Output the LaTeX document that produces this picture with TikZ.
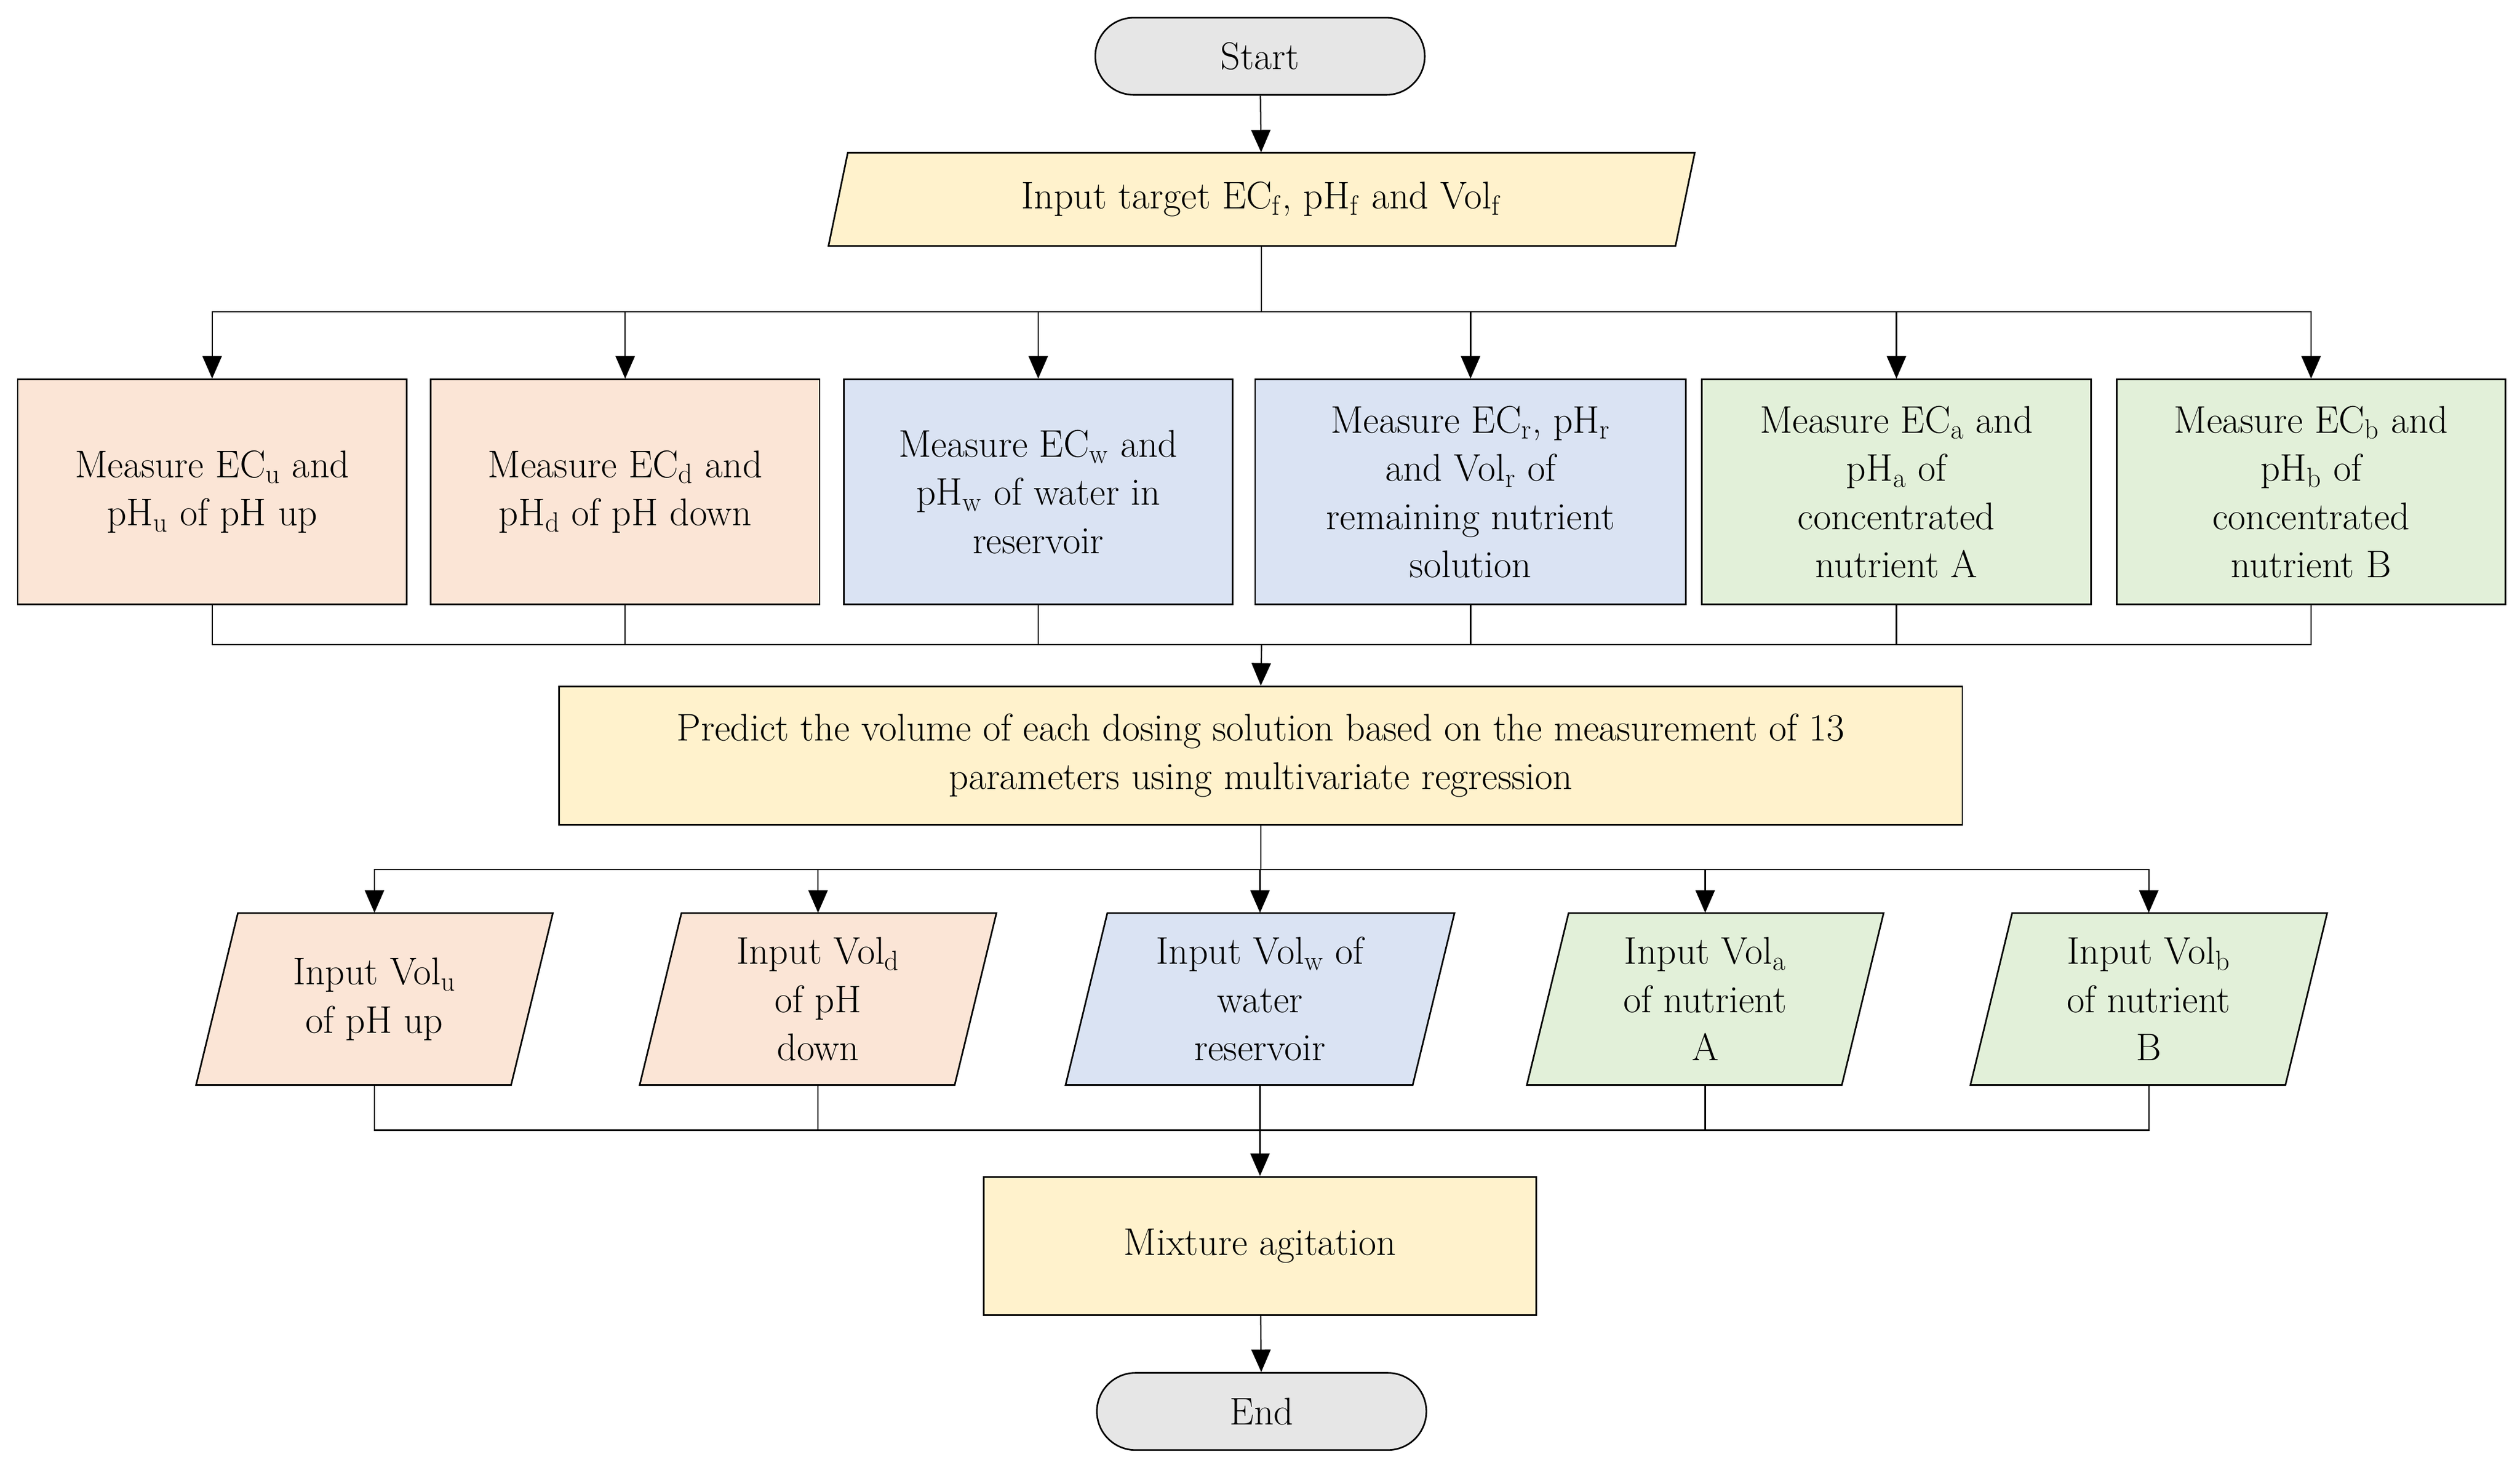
\documentclass[tikz,border=0pt]{standalone}
\usetikzlibrary{arrows.meta}
\definecolor{peach}{HTML}{FBE5D6}
\definecolor{blu}{HTML}{DAE3F3}
\definecolor{grn}{HTML}{E2F0D9}
\definecolor{yel}{HTML}{FFF2CC}
\definecolor{gry}{HTML}{E6E6E6}
\newcommand{\para}[8]{%
  \filldraw[fill=#7,draw=black,line width=1pt] (#2-#4/2-#6/2,#3+#5/2) -- (#2+#4/2-#6/2,#3+#5/2) -- (#2+#4/2+#6/2,#3-#5/2) -- (#2-#4/2+#6/2,#3-#5/2) -- cycle;
  \node[txt,minimum width=#4pt,minimum height=#5pt] (#1) at (#2,#3) {#8};}
\newcommand{\sbs}[1]{$_{\mathrm{#1}}$}
\begin{document}
\begin{tikzpicture}[x=1pt,y=-1pt,
  txt/.style={align=center,inner sep=0pt,font=\fontsize{24}{30}\selectfont},
  box/.style={txt,draw,line width=1pt,minimum width=242pt,minimum height=140pt},
  term/.style={txt,draw,line width=1pt,fill=gry,rounded corners=24pt,minimum width=205pt,minimum height=48pt},
  ln/.style={line width=0.8pt},
  arr/.style={ln,-{Triangle[width=12pt,length=14pt]}}]
\useasboundingbox (0,0) rectangle (1568,916);
\node[term] (start) at (784,35) {Start};
\para{inp}{785}{124}{527}{58}{12}{yel}{Input target EC\sbs{f}, pH\sbs{f} and Vol\sbs{f}}
\node[box,fill=peach] (m1) at (132,306) {Measure EC\sbs{u} and\\pH\sbs{u} of pH up};
\node[box,fill=peach] (m2) at (389,306) {Measure EC\sbs{d} and\\pH\sbs{d} of pH down};
\node[box,fill=blu] (m3) at (646,306) {Measure EC\sbs{w} and\\pH\sbs{w} of water in\\reservoir};
\node[box,fill=blu,minimum width=268pt] (m4) at (915,306) {Measure EC\sbs{r}, pH\sbs{r}\\and Vol\sbs{r} of\\remaining nutrient\\solution};
\node[box,fill=grn] (m5) at (1180,306) {Measure EC\sbs{a} and\\pH\sbs{a} of\\concentrated\\nutrient A};
\node[box,fill=grn] (m6) at (1438,306) {Measure EC\sbs{b} and\\pH\sbs{b} of\\concentrated\\nutrient B};
\node[txt,draw,line width=1pt,fill=yel,minimum width=873pt,minimum height=86pt] (pred) at (784.5,470) {Predict the volume of each dosing solution based on the measurement of 13\\parameters using multivariate regression};
\para{p1}{233}{621.5}{196}{107}{26}{peach}{Input Vol\sbs{u}\\of pH up}
\para{p2}{509}{621.5}{196}{107}{26}{peach}{Input Vol\sbs{d}\\of pH\\down}
\para{p3}{784}{621.5}{216}{107}{26}{blu}{Input Vol\sbs{w} of\\water\\reservoir}
\para{p4}{1061}{621.5}{196}{107}{26}{grn}{Input Vol\sbs{a}\\of nutrient\\A}
\para{p5}{1337}{621.5}{196}{107}{26}{grn}{Input Vol\sbs{b}\\of nutrient\\B}
\node[txt,draw,line width=1pt,fill=yel,minimum width=344pt,minimum height=86pt] (mix) at (784,775) {Mixture agitation};
\node[term] (end) at (785,878) {End};
\coordinate (b1) at (785,194);
\coordinate (c1) at (785,401);
\coordinate (b2) at (784,541);
\coordinate (c2) at (784,703);
\draw[arr] (start) -- (inp);
\draw[ln] (inp.south) -- (b1);
\foreach \n in {m1,m2,m3,m4,m5,m6}{\draw[arr] (b1) -| (\n.north); \draw[ln] (\n.south) |- (c1);}
\draw[arr] (c1) -- (pred.north);
\draw[ln] (pred.south) -- (pred.south |- b2);
\foreach \n in {p1,p2,p3,p4,p5}{\draw[arr] (b2) -| (\n.north); \draw[ln] (\n.south) |- (c2);}
\draw[arr] (c2) -- (mix.north);
\draw[arr] (mix) -- (end);
\end{tikzpicture}
\end{document}
